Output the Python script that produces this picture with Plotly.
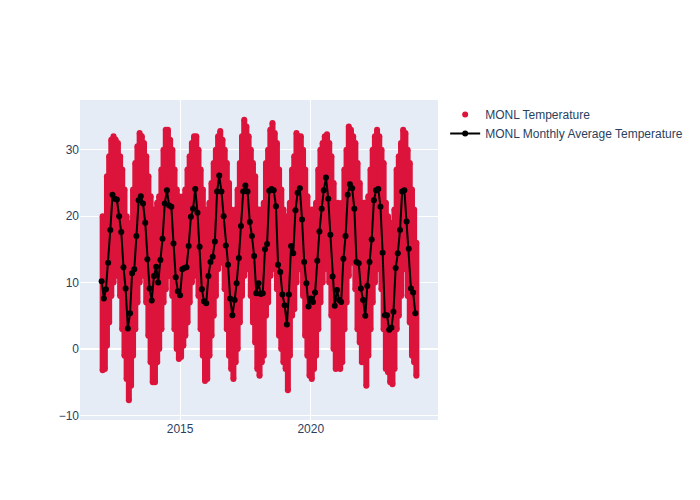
import plotly.graph_objects as go

# ---- data ----
month_labels = [f"{y}-{m:02d}" for y in range(2012, 2024) for m in range(1, 13)] + ["2024-01"]

monthly_avg = [
    10.2, 7.6, 9.0, 13.0, 17.9, 23.2, 22.6, 22.5, 20.0, 17.6, 12.3, 9.1,   # 2012
    3.1, 5.4, 11.4, 12.0, 17.0, 22.4, 23.0, 21.9, 19.0, 13.5, 9.1, 7.3,    # 2013
    11.0, 12.4, 10.0, 13.4, 16.6, 21.9, 23.9, 21.6, 21.4, 15.9, 10.8, 8.7, # 2014
    8.1, 12.0, 12.2, 12.3, 15.5, 19.9, 21.1, 24.1, 20.5, 15.4, 9.0, 7.2,   # 2015
    6.9, 11.0, 13.1, 13.9, 16.2, 23.7, 26.1, 23.7, 20.0, 15.6, 12.7, 7.6,  # 2016
    5.1, 7.4, 9.9, 13.7, 18.5, 23.7, 24.6, 23.7, 19.1, 17.0, 14.0, 8.4,    # 2017
    9.9, 8.3, 8.4, 15.0, 15.8, 23.8, 24.1, 23.9, 21.5, 12.7, 11.6, 8.2,    # 2018
    6.6, 3.7, 8.2, 15.5, 14.4, 20.9, 23.5, 24.2, 19.5, 13.1, 9.9, 6.4,     # 2019
    7.6, 7.1, 8.5, 13.3, 17.7, 21.1, 23.9, 25.8, 22.6, 17.2, 10.9, 6.5,    # 2020
    8.9, 7.4, 7.1, 13.6, 17.0, 23.2, 24.8, 24.2, 21.1, 13.1, 12.9, 9.1,    # 2021
    7.4, 5.0, 9.5, 13.1, 16.5, 22.4, 23.9, 24.1, 21.4, 14.5, 5.1, 5.1,     # 2022
    2.9, 3.2, 5.6, 12.2, 14.4, 17.9, 23.7, 23.9, 19.2, 15.1, 9.1, 8.5,     # 2023
    5.4,                                                                   # 2024
]

monthly_low = [
    -3.2, -3.0, 0.5, 4, 8, 10, 12, 11, 8, 3, -1, -4.5,
    -7.7, -5.5, -1, 3, 7, 10, 12, 11, 7, 2, -2, -5,
    -5, -2, 0, 3, 7, 9, 11, 11, 8, 3, 0, -1.5,
    -1.2, 0.5, 2, 4, 7, 10, 11, 12, 8, 3, -1, -4.8,
    -4.5, -1, 2, 5, 8, 12, 13, 13, 9, 3, -1, -3,
    -4.5, -2, 0, 4, 8, 11, 12, 12, 8, 4, 1, -3,
    -4, -2, -1, 5, 7, 11, 12, 12, 9, 2, 0, -2,
    -3, -6.2, -1, 5, 6, 10, 12, 12, 8, 2, -1, -4,
    -4.5, -3, -1, 3, 7, 10, 12, 13, 10, 5, 0, -3,
    -2.5, -3, -2, 3, 7, 11, 13, 13, 9, 3, 1, -2,
    -2, -5.5, -1, 3, 7, 10, 12, 12, 9, 3, -3, -3.5,
    -5, -5.3, -3, 3, 5, 8, 12, 12, 8, 4, -1, -2,
    -4,
]

monthly_high = [
    20, 19.5, 26, 29, 31.5, 32, 31.5, 31, 29, 27, 24, 20,
    17, 19, 24, 28, 30.5, 32.5, 32, 31, 29, 26, 23, 21,
    21, 22, 23, 27, 30, 33, 33, 31.5, 30, 27, 24, 23,
    22, 23, 24, 27, 29, 31, 32, 32, 30, 27, 24, 21,
    20, 22, 25, 28, 30, 32, 32.8, 31.5, 30, 28, 25, 21,
    20, 21, 24, 28, 32, 34.5, 33.5, 32, 30, 28, 26, 21,
    21, 20, 22, 28, 30, 33, 34, 32.5, 31, 27, 24, 21,
    20, 18, 22, 27, 29, 32.5, 32, 32, 30, 27, 23, 20,
    21, 21, 22, 27, 30, 31, 32, 32.3, 31, 29, 25, 21,
    22, 21, 22, 27, 30, 33.5, 33, 32, 31, 28, 25, 22,
    22, 20, 23, 27, 30, 32, 33, 32, 30, 28, 22, 20,
    18, 19, 21, 27, 29, 31, 33, 32.5, 30, 28, 24, 21,
    16,
]

RED = "#DC143C"

avg_dates = [m + "-01" for m in month_labels]
mid_dates = [m + "-15" for m in month_labels]

# vertical spread of the individual readings within each month
seg_x, seg_y = [], []
for d, lo, hi in zip(mid_dates, monthly_low, monthly_high):
    seg_x += [d, d, None]
    seg_y += [lo, hi, None]

pts_x = mid_dates + mid_dates
pts_y = monthly_low + monthly_high

fig = go.Figure()
fig.add_trace(go.Scatter(
    x=seg_x, y=seg_y, mode="lines", line=dict(color=RED, width=6),
    showlegend=False, hoverinfo="skip", connectgaps=False,
))
fig.add_trace(go.Scatter(
    x=pts_x, y=pts_y, mode="markers", marker=dict(color=RED, size=6),
    name="MONL Temperature",
))
fig.add_trace(go.Scatter(
    x=avg_dates, y=monthly_avg, mode="lines+markers",
    line=dict(color="black", width=2), marker=dict(color="black", size=6),
    name="MONL Monthly Average Temperature",
))

fig.update_layout(
    width=692, height=492,
    margin=dict(l=72, t=92, r=80, b=80),
    font=dict(family="Liberation Sans, Arial, sans-serif"),
)

fig.write_html("out.html")
